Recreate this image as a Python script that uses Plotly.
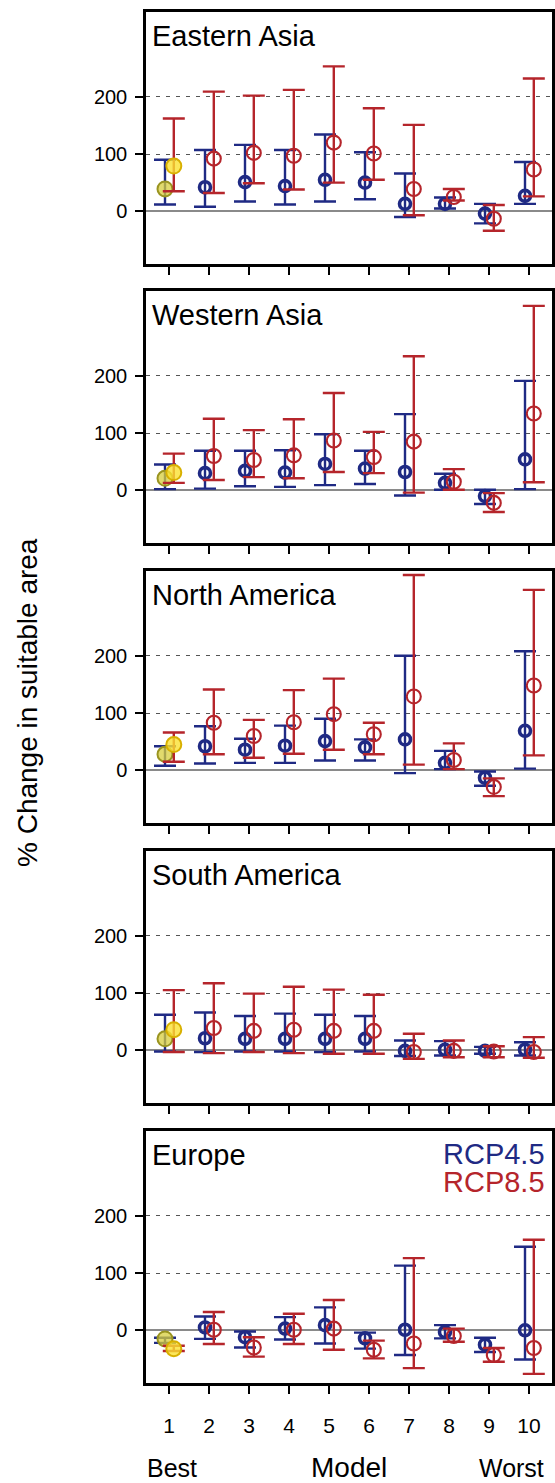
import plotly.graph_objects as go

W, H = 555, 1483

models = [1, 2, 3, 4, 5, 6, 7, 8, 9, 10]
tick_labels = ["1", "2", "3", "4", "5", "6", "7", "8", "9", "10"]
regions = ["Eastern Asia", "Western Asia", "North America", "South America", "Europe"]

# Eastern Asia
ea45_mid = [39, 42, 51, 44, 55, 50, 13, 13, -4, 27]
ea45_lo = [12, 8, 17, 12, 17, 21, -10, 5, -21, 13]
ea45_hi = [90, 107, 116, 107, 134, 103, 66, 24, 13, 86]
ea85_mid = [79, 92, 102, 97, 120, 101, 39, 25, -13, 73]
ea85_lo = [35, 32, 49, 38, 50, 55, -7, 19, -34, 26]
ea85_hi = [162, 209, 202, 212, 253, 180, 151, 39, 11, 232]

# Western Asia
wa45_mid = [21, 30, 34, 31, 46, 38, 32, 13, -10, 54]
wa45_lo = [2, 3, 7, 6, 9, 11, -9, 1, -24, 2]
wa45_hi = [45, 69, 69, 70, 98, 69, 133, 29, 1, 191]
wa85_mid = [31, 60, 53, 61, 87, 58, 85, 15, -22, 134]
wa85_lo = [13, 18, 23, 21, 32, 30, -4, 1, -38, 14]
wa85_hi = [64, 125, 105, 124, 170, 102, 234, 37, -5, 322]

# North America
na45_mid = [28, 42, 36, 43, 51, 40, 54, 13, -13, 69]
na45_lo = [8, 12, 13, 13, 17, 17, -5, 2, -27, 3]
na45_hi = [42, 77, 55, 78, 90, 54, 200, 34, -2, 208]
na85_mid = [45, 83, 60, 84, 98, 63, 129, 18, -29, 148]
na85_lo = [15, 28, 22, 29, 36, 28, 10, 2, -45, 26]
na85_hi = [66, 141, 88, 140, 160, 83, 341, 47, -14, 315]

# South America
sa45_mid = [20, 21, 20, 20, 20, 20, -1, 1, -1, 1]
sa45_lo = [-2, -3, -2, -2, -3, -2, -10, -9, -6, -9]
sa45_hi = [62, 66, 60, 64, 62, 60, 17, 16, 6, 14]
sa85_mid = [36, 39, 34, 36, 34, 34, -3, -1, -2, -3]
sa85_lo = [-3, -5, -3, -5, -6, -6, -15, -12, -12, -13]
sa85_hi = [105, 117, 99, 111, 106, 97, 29, 17, 7, 23]

# Europe
eu45_mid = [-15, 5, -12, 3, 9, -14, 1, -3, -25, 0]
eu45_lo = [-22, -15, -30, -16, -23, -32, -43, -14, -38, -51]
eu45_hi = [-13, 24, -2, 23, 40, -4, 113, 9, -13, 146]
eu85_mid = [-32, 1, -30, 1, 3, -34, -23, -10, -43, -31]
eu85_lo = [-36, -24, -46, -24, -34, -49, -66, -20, -55, -76]
eu85_hi = [-27, 32, -12, 29, 53, -18, 126, 3, -31, 158]

series45 = [(ea45_mid, ea45_lo, ea45_hi), (wa45_mid, wa45_lo, wa45_hi),
            (na45_mid, na45_lo, na45_hi), (sa45_mid, sa45_lo, sa45_hi),
            (eu45_mid, eu45_lo, eu45_hi)]
series85 = [(ea85_mid, ea85_lo, ea85_hi), (wa85_mid, wa85_lo, wa85_hi),
            (na85_mid, na85_lo, na85_hi), (sa85_mid, sa85_lo, sa85_hi),
            (eu85_mid, eu85_lo, eu85_hi)]

BLUE = "#1f2a84"
RED = "#b5252b"
FONT = "Liberation Sans, Arial, sans-serif"

panel_tops = [12, 291, 571, 851, 1131]
panel_h = 252
x_left, x_right = 146, 552

fig = go.Figure()
layout = dict(
    width=W, height=H, margin=dict(l=0, r=0, t=0, b=0),
    paper_bgcolor="white", plot_bgcolor="white", showlegend=False,
    font=dict(family=FONT, color="black"),
)
annotations = []

for i, reg in enumerate(regions):
    n = i + 1
    xa = "x" if n == 1 else f"x{n}"
    ya = "y" if n == 1 else f"y{n}"
    top = panel_tops[i]
    bot = top + panel_h
    dom_y = [1 - bot / H, 1 - top / H]
    dom_x = [x_left / W, x_right / W]

    for (mid, lo, hi), col, off, msize, mlw, ycol, ylc in [
        (series45[i], BLUE, -0.1, 11, 3.6, "rgba(215,205,60,0.75)", "#9a9420"),
        (series85[i], RED, 0.12, 14, 2.1, "rgba(250,225,50,0.8)", "#d8b000"),
    ]:
        xs = [m + off for m in models]
        mcols = ["rgba(0,0,0,0)"] + [col] * (len(models) - 1)
        fig.add_trace(go.Scatter(
            x=xs, y=mid, mode="markers", xaxis=xa, yaxis=ya,
            marker=dict(symbol="circle-open", size=msize, color=mcols,
                        line=dict(width=mlw)),
            error_y=dict(type="data", symmetric=False,
                         array=[h - m for h, m in zip(hi, mid)],
                         arrayminus=[m - l for m, l in zip(mid, lo)],
                         color=col, thickness=2.4, width=11),
            hoverinfo="skip",
        ))
        fig.add_trace(go.Scatter(
            x=xs[:1], y=mid[:1], mode="markers", xaxis=xa, yaxis=ya,
            marker=dict(symbol="circle", size=15, color=ycol,
                        line=dict(width=2, color=ylc)),
            hoverinfo="skip",
        ))

    layout["xaxis" if n == 1 else f"xaxis{n}"] = dict(
        domain=dom_x, anchor=ya, range=[0.425, 10.575],
        tickmode="array", tickvals=models, ticktext=tick_labels,
        ticks="outside", ticklen=8, tickwidth=2, tickcolor="black",
        showticklabels=(n == 5), tickfont=dict(size=21, family=FONT),
        ticklabelstandoff=14,
        showline=True, mirror=True, linewidth=2.5, linecolor="black",
        showgrid=False, zeroline=False, fixedrange=True,
    )
    layout["yaxis" if n == 1 else f"yaxis{n}"] = dict(
        domain=dom_y, anchor=xa, range=[-92, 348],
        tickmode="array", tickvals=[0, 100, 200], ticktext=["0", "100", "200"],
        ticks="outside", ticklen=8, tickwidth=2, tickcolor="black",
        tickfont=dict(size=20, family=FONT), ticklabelstandoff=4,
        showline=True, mirror=True, linewidth=2.5, linecolor="black",
        showgrid=True, gridcolor="#555555", gridwidth=1, griddash="4px,6px",
        zeroline=True, zerolinecolor="#8a8a8a", zerolinewidth=1.5,
        fixedrange=True,
    )
    annotations.append(dict(
        text=reg, xref="paper", yref="paper", x=150 / W, y=1 - (top + 24) / H,
        xanchor="left", yanchor="middle", showarrow=False,
        font=dict(size=29, family=FONT, color="black"),
    ))

annotations += [
    dict(text="RCP4.5", xref="paper", yref="paper", x=547 / W, y=1 - 1154 / H,
         xanchor="right", yanchor="middle", showarrow=False,
         font=dict(size=29, family=FONT, color=BLUE)),
    dict(text="RCP8.5", xref="paper", yref="paper", x=547 / W, y=1 - 1182 / H,
         xanchor="right", yanchor="middle", showarrow=False,
         font=dict(size=29, family=FONT, color=RED)),
    dict(text="% Change in suitable area", xref="paper", yref="paper",
         x=28 / W, y=1 - 703 / H, xanchor="center", yanchor="middle",
         textangle=-90, showarrow=False, font=dict(size=28, family=FONT)),
    dict(text="Best", xref="paper", yref="paper", x=145 / W, y=1 - 1468 / H,
         xanchor="left", yanchor="middle", showarrow=False,
         font=dict(size=25, family=FONT)),
    dict(text="Model", xref="paper", yref="paper", x=349 / W, y=1 - 1467 / H,
         xanchor="center", yanchor="middle", showarrow=False,
         font=dict(size=28, family=FONT)),
    dict(text="Worst", xref="paper", yref="paper", x=546 / W, y=1 - 1468 / H,
         xanchor="right", yanchor="middle", showarrow=False,
         font=dict(size=25, family=FONT)),
]
layout["annotations"] = annotations
fig.update_layout(**layout)
fig.write_html(
    "out.html",
    config={"displayModeBar": False},
    post_script="document.body.style.margin='0px';document.body.style.padding='0px';"
                "document.documentElement.style.overflow='hidden';",
)
